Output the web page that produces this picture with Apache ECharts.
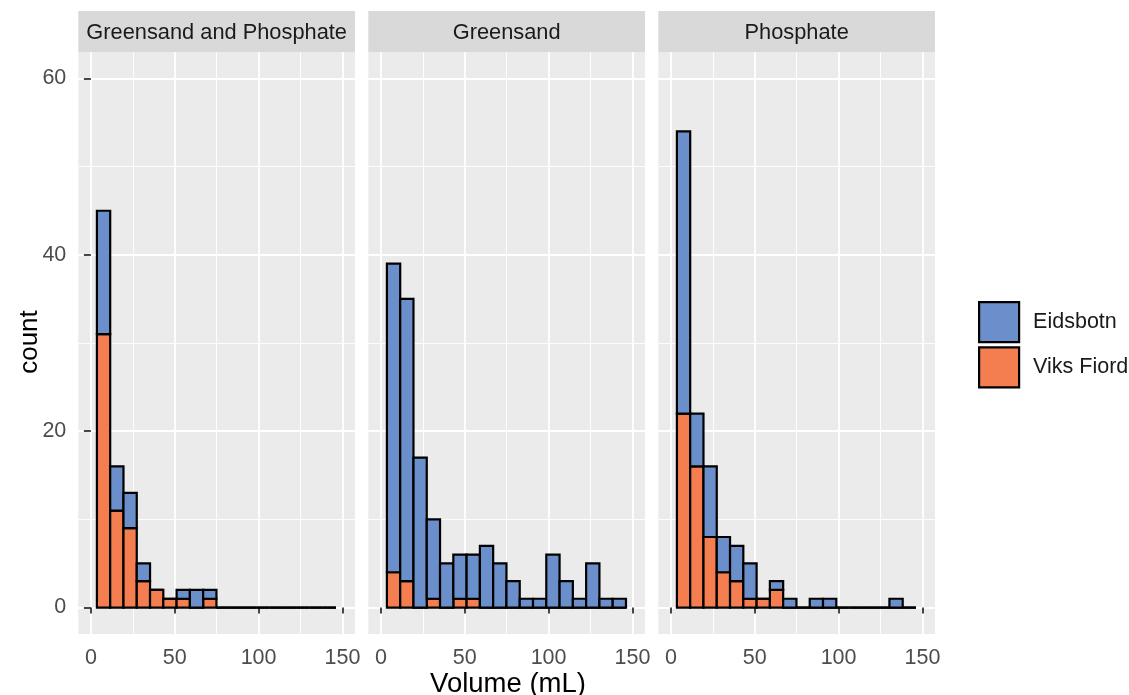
<!DOCTYPE html>
<html>
<head>
<meta charset="utf-8">
<script src="https://cdn.jsdelivr.net/npm/echarts@6/dist/echarts.min.js"></script>
<style>
  html, body { margin: 0; padding: 0; background: #fff; }
  #chart { width: 1129px; height: 695px; }
</style>
</head>
<body>
<div id="chart"></div>
<script>
// histogram bins (Volume, mL)
const binEdges = [3.6, 11.52, 19.44, 27.36, 35.28, 43.2, 51.12, 59.04, 66.96, 74.88,
  82.8, 90.72, 98.64, 106.56, 114.48, 122.4, 130.32, 138.24, 146.16]
const facets = ['Greensand and Phosphate', 'Greensand', 'Phosphate']
const groups = ['Eidsbotn', 'Viks Fiord']

// counts per bin, one array per facet and group
const bothEidsbotn = [14, 5, 4, 2, 0, 0, 1, 2, 1, 0, 0, 0, 0, 0, 0, 0, 0, 0]
const bothViks = [31, 11, 9, 3, 2, 1, 1, 0, 1, 0, 0, 0, 0, 0, 0, 0, 0, 0]
const greensandEidsbotn = [35, 32, 17, 9, 5, 5, 5, 7, 5, 3, 1, 1, 6, 3, 1, 5, 1, 1]
const greensandViks = [4, 3, 0, 1, 0, 1, 1, 0, 0, 0, 0, 0, 0, 0, 0, 0, 0, 0]
const phosphateEidsbotn = [32, 6, 8, 4, 4, 4, 0, 1, 1, 0, 1, 1, 0, 0, 0, 0, 1, 0]
const phosphateViks = [22, 16, 8, 4, 3, 1, 1, 2, 0, 0, 0, 0, 0, 0, 0, 0, 0, 0]

const xMajor = [0, 50, 100, 150]
const xMinor = [25, 75, 125]
const yMajor = [0, 20, 40, 60]
const yMinor = [10, 30, 50]

const counts = [
  [bothEidsbotn, bothViks],
  [greensandEidsbotn, greensandViks],
  [phosphateEidsbotn, phosphateViks]
]
const colors = { 'Eidsbotn': '#6B8FCB', 'Viks Fiord': '#F47E50' }

const FONT = 'Liberation Sans, Arial, sans-serif'
const panelLeft = [78.3, 368.3, 658.3]
const panelTop = 52
const panelW = 276.7
const panelH = 582
const stripTop = 11

const chart = echarts.init(document.getElementById('chart'))

function renderBar(params, api) {
  const p0 = api.coord([api.value(0), api.value(2)])
  const p1 = api.coord([api.value(1), api.value(3)])
  return {
    type: 'rect',
    shape: { x: p0[0], y: p1[1], width: p1[0] - p0[0], height: p0[1] - p1[1] },
    style: { fill: api.visual('color'), stroke: '#000', lineWidth: 2.2 }
  }
}

const grids = []
const xAxes = []
const yAxes = []
const series = []
const graphics = []

facets.forEach((name, i) => {
  grids.push({
    left: panelLeft[i], top: panelTop, width: panelW, height: panelH,
    show: true, backgroundColor: '#EBEBEB', borderWidth: 0
  })
  // major x
  xAxes.push({
    gridIndex: i, type: 'value', position: 'bottom', min: -7.5, max: 157.5,
    axisLine: { show: false },
    axisTick: { show: true, length: 6, customValues: xMajor, lineStyle: { color: '#333', width: 1.8 } },
    axisLabel: { customValues: xMajor, color: '#4D4D4D', fontSize: 21.5, fontFamily: FONT, margin: 13 },
    splitLine: { show: true, lineStyle: { color: '#fff', width: 1.8 } }
  })
  // minor x
  xAxes.push({
    gridIndex: i, type: 'value', position: 'top', min: -7.5, max: 157.5,
    axisLine: { show: false },
    axisTick: { show: false, customValues: xMinor },
    axisLabel: { show: false, customValues: xMinor },
    splitLine: { show: true, lineStyle: { color: '#fff', width: 0.9 } }
  })
  yAxes.push({
    gridIndex: i, type: 'value', position: 'left', min: -3, max: 63,
    axisLine: { show: false },
    axisTick: { show: i === 0, length: 7, customValues: yMajor, lineStyle: { color: '#333', width: 1.8 } },
    axisLabel: { show: i === 0, customValues: yMajor, color: '#4D4D4D', fontSize: 21.5, fontFamily: FONT, margin: 12 },
    splitLine: { show: true, lineStyle: { color: '#fff', width: 1.8 } }
  })
  yAxes.push({
    gridIndex: i, type: 'value', position: 'right', min: -3, max: 63,
    axisLine: { show: false },
    axisTick: { show: false, customValues: yMinor },
    axisLabel: { show: false, customValues: yMinor },
    splitLine: { show: true, lineStyle: { color: '#fff', width: 0.9 } }
  })

  const [eids, viks] = counts[i]
  const viksData = viks.map((v, k) => [binEdges[k], binEdges[k + 1], 0, v])
  const eidsData = eids.map((v, k) => [binEdges[k], binEdges[k + 1], viks[k], viks[k] + v])
  series.push({
    name: 'Viks Fiord', type: 'custom', xAxisIndex: 2 * i, yAxisIndex: 2 * i,
    itemStyle: { color: colors['Viks Fiord'] },
    renderItem: renderBar, encode: { x: [0, 1], y: [2, 3] }, data: viksData, clip: false, z: 3
  })
  series.push({
    name: 'Eidsbotn', type: 'custom', xAxisIndex: 2 * i, yAxisIndex: 2 * i,
    itemStyle: { color: colors['Eidsbotn'] },
    renderItem: renderBar, encode: { x: [0, 1], y: [2, 3] }, data: eidsData, clip: false, z: 3
  })

  // facet strip
  graphics.push({
    type: 'rect', left: panelLeft[i], top: stripTop,
    shape: { width: panelW, height: panelTop - stripTop },
    style: { fill: '#D9D9D9' }
  })
  graphics.push({
    type: 'text', x: panelLeft[i] + panelW / 2, y: (stripTop + panelTop) / 2 + 1,
    style: { text: name, fill: '#1A1A1A', font: '21.8px ' + FONT, align: 'center', verticalAlign: 'middle' }
  })
})

graphics.push({
  type: 'text', x: 508, y: 684,
  style: { text: 'Volume (mL)', fill: '#000', font: '27.5px ' + FONT, align: 'center', verticalAlign: 'middle' }
})
graphics.push({
  type: 'text', x: 30, y: 342, rotation: Math.PI / 2,
  style: { text: 'count', fill: '#000', font: '26px ' + FONT, align: 'center', verticalAlign: 'middle' }
})

chart.setOption({
  backgroundColor: '#fff',
  animation: false,
  grid: grids,
  xAxis: xAxes,
  yAxis: yAxes,
  series: series,
  legend: {
    data: groups,
    orient: 'vertical',
    left: 978,
    top: 301,
    padding: 0,
    icon: 'rect',
    itemWidth: 40,
    itemHeight: 40,
    itemGap: 3,
    itemStyle: { borderColor: '#000', borderWidth: 2.2 },
    textStyle: { fontSize: 21.5, fontFamily: FONT, color: '#1A1A1A', padding: [0, 0, 0, 9] }
  },
  graphic: graphics
})

window.addEventListener('resize', () => chart.resize())
</script>
</body>
</html>
